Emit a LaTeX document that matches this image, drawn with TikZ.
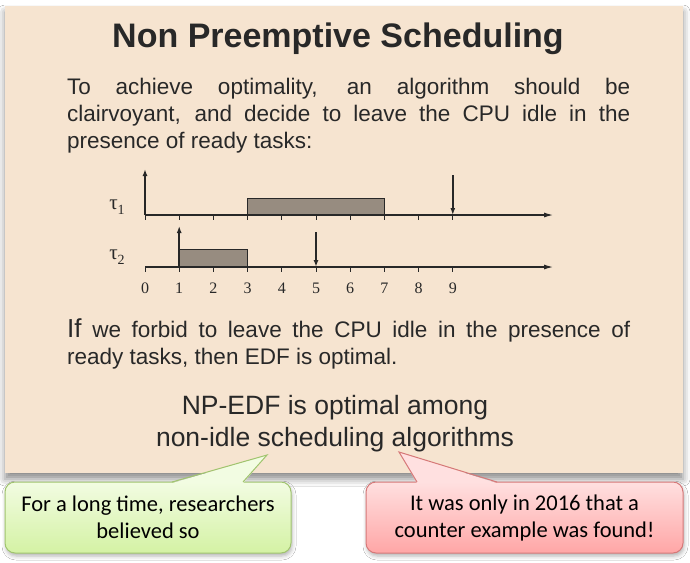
\documentclass[tikz,border=0pt]{standalone}
\usepackage{fontspec}
\setmainfont{Liberation Sans}
\newfontfamily\tmsfont{Liberation Serif}
\newfontfamily\calfont{Carlito}
\usetikzlibrary{arrows.meta,shadows.blur}
\definecolor{beige}{RGB}{246,228,208}
\definecolor{txt}{RGB}{40,40,40}
\definecolor{greenT}{RGB}{242,252,226}
\definecolor{greenB}{RGB}{212,242,164}
\definecolor{greenD}{RGB}{160,196,110}
\definecolor{pinkT}{RGB}{255,224,224}
\definecolor{pinkB}{RGB}{255,166,166}
\definecolor{pinkD}{RGB}{214,120,120}
\definecolor{taskfill}{RGB}{151,140,128}
\definecolor{ink}{RGB}{40,40,40}
\tikzset{
  titletext/.style={font=\bfseries\fontsize{34}{40}\selectfont, text=txt, inner sep=0pt},
  bodytext/.style={font=\fontsize{22.5}{27}\selectfont, text=txt, inner sep=0pt},
  bigtext/.style={font=\fontsize{26.5}{32}\selectfont, text=txt, inner sep=0pt, align=center},
  axisline/.style={draw=ink, line width=1.1pt, -{Latex[length=9pt,width=5pt]}},
  tickline/.style={draw=ink, line width=0.9pt},
  release/.style={draw=black!85, line width=2pt, -{Latex[length=7pt,width=5pt]}},
  deadline/.style={draw=ink, line width=1.4pt, -{Latex[length=7pt,width=5pt]}},
  taskbox/.style={fill=taskfill, draw=ink, line width=1pt},
  numlabel/.style={font=\tmsfont\fontsize{16}{16}\selectfont, text=ink, inner sep=0pt},
  taulabel/.style={font=\tmsfont\fontsize{21}{21}\selectfont, text=ink, inner sep=0pt},
  calloutG/.style={rectangle, rounded corners=10pt, draw=greenD, line width=1pt,
     top color=greenT, bottom color=greenB, align=center, text=black,
     font=\calfont\fontsize{22.5}{27}\selectfont, inner sep=0pt,
     blur shadow={shadow xshift=1pt, shadow yshift=-3pt, shadow blur radius=4pt, shadow opacity=30}},
  calloutP/.style={calloutG, draw=pinkD, top color=pinkT, bottom color=pinkB},
}
\begin{document}
\begin{tikzpicture}[x=1pt,y=-1pt]
\useasboundingbox (0,0) rectangle (690,562);
\fill[white] (0,0) rectangle (690,562);
% main panel
\fill[beige, blur shadow={shadow xshift=0pt, shadow yshift=-6pt, shadow blur radius=7pt, shadow opacity=45}] (5,6) rectangle (683,473);

\node[titletext, anchor=base] (title) at (338,47) {Non Preemptive Scheduling};

\node[bodytext, anchor=base west] (para1) at (67,94) {\parbox[t]{563pt}{To achieve optimality, an algorithm should be\linebreak clairvoyant, and decide to leave the CPU idle in the\linebreak presence of ready tasks:}};

% timeline
\node[taulabel] (tau1) at (117,207) {τ\raisebox{-5pt}{\fontsize{14}{14}\selectfont 1}};
\node[taulabel] (tau2) at (117,257) {τ\raisebox{-5pt}{\fontsize{14}{14}\selectfont 2}};
\begin{scope}[xshift=145pt, x=34.2pt]
  \coordinate (a1s) at (0,215); \coordinate (a1e) at (11.93,215);
  \coordinate (a2s) at (0,267); \coordinate (a2e) at (11.93,267);
  \draw[taskbox] (3,198) rectangle (7,215);
  \draw[taskbox] (1,249) rectangle (3,267);
  \draw[axisline] (a1s) -- (a1e);
  \draw[axisline] (a2s) -- (a2e);
  \foreach \i in {0,...,9} {
    \draw[tickline] (\i,215) -- (\i,220);
    \draw[tickline] (\i,267) -- (\i,272);
    \node[numlabel, anchor=base] (n\i) at (\i,293) {\i};
  }
  \coordinate (r1a) at (0,215); \coordinate (r1b) at (0,169);
  \coordinate (r2a) at (1,267); \coordinate (r2b) at (1,226);
  \coordinate (d1a) at (9,175); \coordinate (d1b) at (9,215);
  \coordinate (d2a) at (5,232); \coordinate (d2b) at (5,267);
  \draw[release] (r1a) -- (r1b);
  \draw[release] (r2a) -- (r2b);
  \draw[deadline] (d1a) -- (d1b);
  \draw[deadline] (d2a) -- (d2b);
\end{scope}

\node[bodytext, anchor=base west] (para2) at (67,337) {\parbox[t]{563pt}{{\fontsize{26}{27}\selectfont If} we forbid to leave the CPU idle in the presence of\linebreak ready tasks, then EDF is optimal.}};

\node[bigtext, anchor=base] (np1) at (335,414) {NP-EDF is optimal among};
\node[bigtext, anchor=base] (np2) at (335,446) {non-idle scheduling algorithms};

% callouts
\node[calloutG, minimum width=286pt, minimum height=71pt] (green) at (148,517.5) {For a long time, researchers\\believed so};
\coordinate (gtip) at (267,455);
\fill[greenT] (172,483.2) -- (gtip) -- (243,483.2) -- cycle;
\draw[greenD, line width=1pt, line join=miter] (172,482) -- (gtip) -- (243,482);

\node[calloutP, minimum width=317pt, minimum height=71pt] (pink) at (524.5,517.5) {It was only in 2016 that a\\counter example was found!};
\coordinate (ptip) at (399,452);
\fill[pinkT] (417,483.2) -- (ptip) -- (497,483.2) -- cycle;
\draw[pinkD, line width=1pt, line join=miter] (417,482) -- (ptip) -- (497,482);
\end{tikzpicture}
\end{document}
